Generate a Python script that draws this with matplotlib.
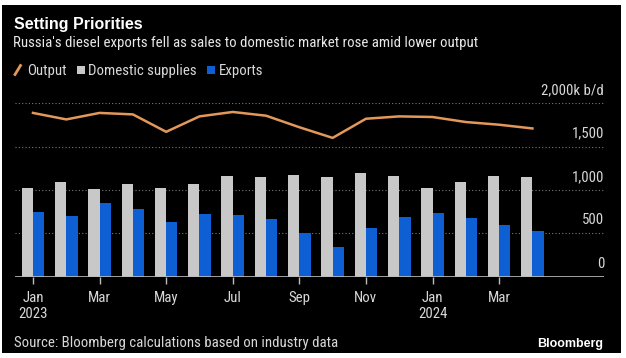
"""
Russia diesel: output, domestic supplies and exports (Bloomberg style chart).
"""
import matplotlib
matplotlib.use("Agg")
import matplotlib.pyplot as plt
from matplotlib import font_manager
from matplotlib.patches import Rectangle
from matplotlib.transforms import blended_transform_factory

W, H = 626, 358

months = ["Jan", "Feb", "Mar", "Apr", "May", "Jun", "Jul", "Aug", "Sep",
          "Oct", "Nov", "Dec", "Jan", "Feb", "Mar", "Apr"]
tick_labels = ["Jan\n2023", "Mar", "May", "Jul", "Sep", "Nov", "Jan\n2024", "Mar"]

# k b/d
output = [1889, 1814, 1889, 1872, 1671, 1849, 1900, 1857,
          1724, 1601, 1822, 1849, 1842, 1784, 1753, 1710]
domestic = [1020, 1090, 1008, 1066, 1028, 1066, 1163, 1151,
            1175, 1151, 1194, 1163, 1020, 1093, 1167, 1151]
exports = [744, 698, 849, 779, 632, 721, 709, 663,
           500, 337, 563, 691, 737, 679, 593, 523]
y_ticks = [0, 500, 1000, 1500, 2000]
y_labels = ["0", "500", "1,000", "1,500", "2,000k b/d"]
legend_names = ["Output", "Domestic supplies", "Exports"]

SUBTITLE = "Russia's diesel exports fell as sales to domestic market rose amid lower output"

GRAY = "#c8c8c8"
BLUE = "#0f5fd4"
ORANGE = "#e3985a"
TXT = "#d8d8d8"

# pick a condensed face if one is installed, else plain Liberation Sans
installed = {f.name for f in font_manager.fontManager.ttflist}
NARROW = "Liberation Sans"
for cand in ["Liberation Sans Narrow", "DejaVu Sans Condensed", "Roboto Condensed",
             "Open Sans Condensed"]:
    if cand in installed:
        NARROW = cand
        break
BOLD = "Liberation Sans"


def fx(px):
    return px / W


def fy(py):
    return 1 - py / H


fig = plt.figure(figsize=(W / 100, H / 100), dpi=100, facecolor="white")
renderer = fig.canvas.get_renderer()


def text_width(s, **kw):
    t = fig.text(0, 0, s, **kw)
    wpx = t.get_window_extent(renderer).width
    t.remove()
    return wpx


# size the narrow text so the subtitle spans the same width as in the source
FS = min(10.8, 10 * 462 / text_width(SUBTITLE, fontsize=10, family=NARROW))

# black card with a thin white margin like the screenshot
fig.patches.append(Rectangle((fx(2), fy(353)), fx(621) - fx(2), fy(5) - fy(353),
                             transform=fig.transFigure, facecolor="black",
                             edgecolor="none", zorder=-5))

ax = fig.add_axes([fx(15), fy(276.7), fx(604) - fx(15), (276.7 - 103.3) / H])
ax.set_facecolor("none")
x = list(range(len(months)))
w = 0.34
ax.bar([i - w / 2 for i in x], domestic, width=w, color=GRAY, zorder=2)
ax.bar([i + w / 2 for i in x], exports, width=w, color=BLUE, zorder=2)
ax.plot(x, output, color=ORANGE, lw=1.8, zorder=3)

ax.set_xlim(-0.54, 17.15)
ax.set_ylim(0, 2000)
for v in y_ticks[1:]:
    ax.axhline(v, color="#7a7a7a", lw=0.8, ls=(0, (1, 2)), zorder=1, clip_on=False)
ax.axhline(0, color="#bdbdbd", lw=1.2, zorder=4)

trans = blended_transform_factory(ax.transAxes, ax.transData)
for v, lab in zip(y_ticks, y_labels):
    ax.text(1.0, v + 70, lab, transform=trans, ha="right", va="bottom",
            color=TXT, fontsize=FS, family=NARROW)

for s in ax.spines.values():
    s.set_visible(False)
ax.set_yticks([])
ax.set_xticks(x[::2])
ax.set_xticklabels(tick_labels, family=NARROW, fontsize=FS, color=TXT,
                   linespacing=1.2)
ax.tick_params(axis="x", length=5, width=1, color="#bdbdbd", pad=5)

# header
fig.text(fx(14), fy(28.5), "Setting Priorities", color="white", fontsize=11.5,
         fontweight="bold", family=BOLD, va="baseline")
fig.text(fx(13), fy(46.5), SUBTITLE, color="#e8e8e8", fontsize=FS, family=NARROW,
         va="baseline")

# legend, laid out left to right
ly = 70
px = 15
fig.lines.append(plt.Line2D([fx(px), fx(px + 5.5)], [fy(ly + 4.5), fy(ly - 4.5)],
                            transform=fig.transFigure, color=ORANGE, lw=2))
px += 12
marker_colors = [None, GRAY, BLUE]
for name, col in zip(legend_names, marker_colors):
    if col is not None:
        px += 10
        fig.patches.append(Rectangle((fx(px), fy(ly + 4)), fx(8), 8 / H,
                                     transform=fig.transFigure, facecolor=col,
                                     edgecolor="none"))
        px += 12
    fig.text(fx(px), fy(ly + 4.5), name, color=TXT, fontsize=FS, family=NARROW,
             va="baseline")
    px += text_width(name, fontsize=FS, family=NARROW)

# footer
fig.text(fx(14), fy(347.5), "Source: Bloomberg calculations based on industry data",
         color=TXT, fontsize=FS, family=NARROW, va="baseline")
fig.text(fx(603), fy(347.5), "Bloomberg", color="white", fontsize=9, fontweight="bold",
         family=BOLD, ha="right", va="baseline")

fig.savefig("out.png", dpi=100, facecolor=fig.get_facecolor())
